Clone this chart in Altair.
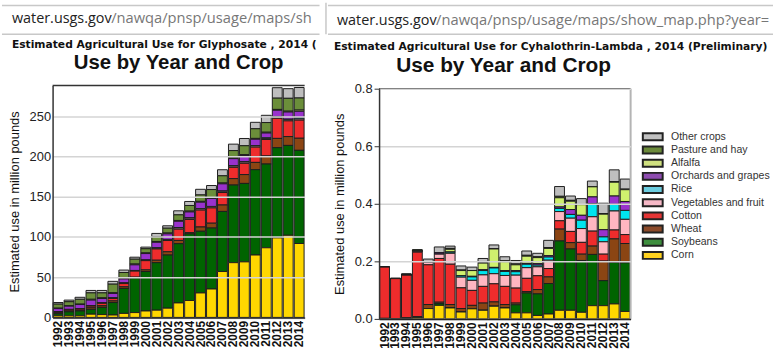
import altair as alt
import pandas as pd

FONT = "Liberation Sans"
SUBFONT = "DejaVu Sans"
URLFONT = "Open Sans"

years = ["1992", "1993", "1994", "1995", "1996", "1997", "1998", "1999", "2000", "2001",
         "2002", "2003", "2004", "2005", "2006", "2007", "2008", "2009", "2010", "2011",
         "2012", "2013", "2014"]

crops = ["Other crops", "Pasture and hay", "Alfalfa", "Orchards and grapes", "Rice",
         "Vegetables and fruit", "Cotton", "Wheat", "Soybeans", "Corn"]
crop_colors = ["#bebebe", "#6b8e3a", "#cff06e", "#9932cc", "#00e5ee",
               "#ffb6c1", "#ee2c2c", "#8b4513", "#006400", "#ffd700"]
legend_colors = ["#c0c0c0", "#6b8a3a", "#cfe07f", "#8e4cb0", "#6ccde0",
                 "#f5b8c6", "#e43535", "#8b4a2a", "#3e8e3e", "#ffd21f"]

# ---- Glyphosate (million pounds) ----
gly_corn = [2, 2, 2, 4, 3.5, 3, 5, 6, 8, 9, 11.5, 18, 21, 30.4, 35.3, 57, 68, 69, 77.5, 86.5, 98.8, 102, 91.8]
gly_soy = [2.5, 5, 6, 6, 9, 15.5, 31, 43, 49, 59, 66, 73.6, 82.7, 76.6, 75.7, 74.6, 96.4, 97.4, 106, 104, 112, 111.6, 115.7]
gly_wheat = [1, 1, 1, 2, 2, 2, 2, 1, 2, 3, 4, 4, 1.5, 5.3, 6, 8, 8, 11, 9, 10, 11.5, 11, 15]
gly_cotton = [1, 1.5, 1.5, 2, 3, 3, 4, 7.5, 11.5, 14, 14, 14, 16.5, 21, 19, 15.5, 14, 14, 19, 20.5, 25, 19.5, 22.5]
gly_veg = [0.3, 0.3, 0.3, 0.3, 0.3, 0.5, 0.5, 0.5, 0.5, 1, 1, 1.5, 1.5, 1.5, 1.5, 1.5, 1.5, 1.5, 1.5, 1, 1.5, 1.5, 1.5]
gly_rice = [0.2, 0.2, 0.2, 0.2, 0.2, 0.3, 0.3, 0.3, 0.3, 0.3, 0.3, 0.3, 0.3, 0.3, 0.3, 0.3, 0.3, 0.3, 0.3, 1, 0.5, 0.5, 1.5]
gly_orch = [4, 4, 5, 7, 5.5, 5.5, 5, 7, 8, 7, 7, 8, 7.5, 8, 10, 9, 9, 8, 8, 6, 8, 9, 8]
gly_alf = [0.5, 0.5, 0.5, 1, 1, 1, 1, 1, 1, 1, 1, 1, 1, 1, 1, 1, 1, 1, 1, 1, 1, 1, 1.5]
gly_past = [5, 5, 6, 8, 6, 10.5, 7, 6, 5, 6, 6, 7, 7, 8, 10, 9, 9, 11, 12, 12, 14, 16, 15]
gly_other = [2, 2, 2.5, 3, 3, 3.5, 3, 2.5, 2, 4, 3, 5, 5, 7, 5, 7.5, 8, 9, 8, 9, 13, 12, 13]

# ---- Cyhalothrin-Lambda (million pounds) ----
cyh_corn = [0, 0, 0, 0.004, 0.036, 0.047, 0.038, 0.024, 0.035, 0.03, 0.044, 0.038, 0.021, 0.021, 0.012, 0.017, 0.03, 0.03, 0.023, 0.046, 0.046, 0.052, 0.026]
cyh_soy = [0, 0, 0, 0, 0, 0.006, 0, 0, 0, 0, 0, 0, 0.028, 0.069, 0.075, 0.106, 0.241, 0.213, 0.18, 0.178, 0.087, 0.144, 0.169]
cyh_wheat = [0.002, 0, 0.004, 0.004, 0.014, 0.005, 0.012, 0.012, 0.012, 0.025, 0.015, 0.012, 0.006, 0.005, 0.015, 0.023, 0.041, 0.022, 0.022, 0.029, 0.068, 0.082, 0.067]
cyh_cotton = [0.178, 0.14, 0.148, 0.224, 0.138, 0.152, 0.14, 0.072, 0.052, 0.058, 0.063, 0.063, 0.052, 0.046, 0.048, 0.029, 0.029, 0.039, 0.041, 0.052, 0.024, 0.031, 0.031]
cyh_veg = [0, 0, 0, 0.003, 0.009, 0.015, 0.038, 0.037, 0.035, 0.04, 0.035, 0.038, 0.045, 0.037, 0.031, 0.029, 0.032, 0.046, 0.048, 0.05, 0.043, 0.066, 0.053]
cyh_rice = [0, 0, 0, 0, 0, 0, 0.004, 0.005, 0.012, 0.015, 0.02, 0.014, 0.012, 0.012, 0.006, 0.011, 0.011, 0.013, 0.029, 0.046, 0.017, 0.023, 0.031]
cyh_orch = [0, 0, 0, 0, 0, 0.005, 0, 0, 0.002, 0.003, 0.002, 0.003, 0.004, 0.003, 0.005, 0.005, 0.005, 0.017, 0.017, 0.023, 0.025, 0.029, 0.031]
cyh_alf = [0, 0, 0, 0, 0, 0, 0.01, 0.018, 0.02, 0.023, 0.064, 0.031, 0.02, 0.025, 0.021, 0.025, 0.032, 0.029, 0.037, 0.035, 0.054, 0.048, 0.041]
cyh_past = [0, 0, 0.004, 0.005, 0, 0, 0.003, 0.002, 0, 0.002, 0, 0.003, 0.003, 0.003, 0.003, 0.003, 0.005, 0.003, 0, 0, 0.002, 0.002, 0.002]
cyh_other = [0, 0.002, 0, 0, 0.011, 0.02, 0.008, 0.014, 0.012, 0.014, 0.014, 0.014, 0.012, 0.015, 0.012, 0.025, 0.034, 0.015, 0.021, 0.02, 0.036, 0.041, 0.035]

gly = {"Corn": gly_corn, "Soybeans": gly_soy, "Wheat": gly_wheat, "Cotton": gly_cotton,
       "Vegetables and fruit": gly_veg, "Rice": gly_rice, "Orchards and grapes": gly_orch,
       "Alfalfa": gly_alf, "Pasture and hay": gly_past, "Other crops": gly_other}
cyh = {"Corn": cyh_corn, "Soybeans": cyh_soy, "Wheat": cyh_wheat, "Cotton": cyh_cotton,
       "Vegetables and fruit": cyh_veg, "Rice": cyh_rice, "Orchards and grapes": cyh_orch,
       "Alfalfa": cyh_alf, "Pasture and hay": cyh_past, "Other crops": cyh_other}


def long_table(series):
    rows = []
    for ci, crop in enumerate(crops):
        for y, v in zip(years, series[crop]):
            rows.append({"year": y, "crop": crop, "value": v, "stack": len(crops) - 1 - ci})
    return pd.DataFrame(rows)


one = pd.DataFrame({"k": [0]})
color_scale = alt.Scale(domain=crops, range=crop_colors)


def txt(x, y, text, size, weight="normal", color="#111", font=FONT, align="left", limit=None):
    kw = dict(text=text, font=font, fontSize=size, fontWeight=weight, color=color,
              align=align, baseline="alphabetic")
    if limit:
        kw.update(limit=limit, ellipsis="\u200b")
    return alt.Chart(one).mark_text(**kw).encode(x=alt.value(x), y=alt.value(y))


def hrule(x1, x2, y, color, w):
    return alt.Chart(one).mark_rule(color=color, strokeWidth=w).encode(
        x=alt.value(x1), x2=alt.value(x2), y=alt.value(y))


def vrule(x, y1, y2, color, w):
    return alt.Chart(one).mark_rule(color=color, strokeWidth=w).encode(
        x=alt.value(x), y=alt.value(y1), y2=alt.value(y2))


def frame(x1, x2, y1, y2):
    return alt.Chart(one).mark_rect(fill="white", strokeWidth=0).encode(
        x=alt.value(x1), x2=alt.value(x2), y=alt.value(y1), y2=alt.value(y2))


def bars(df, ymax, yrange, yvals, yfmt, tick, title_x):
    return alt.Chart(df).mark_bar(stroke="#1e1e1e", strokeWidth=1).encode(
        x=alt.X("year:O", sort=years,
                scale=alt.Scale(paddingInner=0.1, paddingOuter=0.05),
                axis=alt.Axis(title=None, labelAngle=270, labelFont=FONT, labelFontSize=12,
                              labelFontWeight="bold", labelColor="#111", ticks=False,
                              labelPadding=3, domainColor="#222", domainWidth=1.5,
                              labelOverlap=False, zindex=1)),
        y=alt.Y("value:Q", stack="zero",
                scale=alt.Scale(domain=[0, ymax], range=yrange, nice=False, zero=True),
                axis=alt.Axis(title="Estimated use in million pounds", values=yvals, format=yfmt,
                              tickSize=tick, tickColor="#333", labelPadding=2,
                              labelFont=FONT, labelFontSize=13, labelColor="#222",
                              titleFont=FONT, titleFontSize=13, titleFontWeight="normal",
                              titleColor="#111", titleX=title_x, titleBaseline="middle",
                              titleAlign="center", grid=True, gridColor="#d4d4d4",
                              gridWidth=1.5, domainColor="#333", domainWidth=1.5, zindex=1)),
        color=alt.Color("crop:N", scale=color_scale, legend=None),
        order=alt.Order("stack:Q", sort="ascending"),
    )


# Both plot areas share the same top (page y = 86.5); left origin x = 51, right origin x ~ 377.5
TOP = 86.5

# ---------------- left panel ----------------
LW, LH = 254, 230.5
left = alt.layer(
    frame(-51, 271, -TOP, 354 - TOP),
    hrule(-51, 269, 2.7 - TOP, "#c8c8c8", 1.5),
    hrule(-51, 269, 31.7 - TOP, "#c8c8c8", 1.5),
    txt(-41, 20 - TOP, "water.usgs.gov", 14.5, color="#222", font=URLFONT),
    txt(59, 20 - TOP, "/nawqa/pnsp/usage/maps/show_map.php?year=2014&map=GLYPHOSATE&hilo=L",
        14.8, color="#777", font=URLFONT, limit=208),
    txt(-41, 45 - TOP, "Estimated Agricultural Use for Glyphosate , 2014 (Preliminary)", 10.8,
        weight="bold", font=SUBFONT, limit=311),
    txt(127, 66.2 - TOP, "Use by Year and Crop", 20.5, weight="bold", align="center"),
    bars(long_table(gly), 288, [LH, 83.3 - TOP], [0, 50, 100, 150, 200, 250], "d", 0, -38.5),
    hrule(0, LW, 83.3 - TOP, "#333", 1.5),
).properties(width=LW, height=LH)

# ---------------- right panel ----------------
RW, RH = 253.5, 232
legend_df = pd.DataFrame({"crop": crops, "row": list(range(len(crops)))})
leg_y = alt.Y("row:Q", scale=alt.Scale(domain=[0, len(crops) - 1], range=[48.5, 168]), axis=None)
legend_sym = alt.Chart(legend_df).mark_point(
    shape="M-1,-0.35H1V0.35H-1Z", size=400, filled=True, opacity=1,
    stroke="#222", strokeWidth=2).encode(
    x=alt.value(275.8), y=leg_y,
    fill=alt.Fill("crop:N", scale=alt.Scale(domain=crops, range=legend_colors), legend=None))
legend_txt = alt.Chart(legend_df).mark_text(
    align="left", baseline="middle", font=FONT, fontSize=10.6, color="#333").encode(
    x=alt.value(294.2), y=leg_y, text="crop:N")

right = alt.layer(
    frame(-53.5, 397, -TOP, 354 - TOP),
    hrule(-51.5, 397, 2.7 - TOP, "#c8c8c8", 1.5),
    hrule(-51.5, 397, 31.7 - TOP, "#c8c8c8", 1.5),
    vrule(-53.5, -TOP, 31.7 - TOP, "#c8c8c8", 1.5),
    txt(-42.5, 22.7 - TOP, "water.usgs.gov", 14.5, color="#222", font=URLFONT),
    txt(57.5, 22.7 - TOP, "/nawqa/pnsp/usage/maps/show_map.php?year=2014&map=LAMBDACYHALOTHRIN&hilo=L",
        14.8, color="#777", font=URLFONT, limit=338),
    txt(-45.5, 47.3 - TOP, "Estimated Agricultural Use for Cyhalothrin-Lambda , 2014 (Preliminary)", 10.8,
        weight="bold", font=SUBFONT),
    txt(125.5, 69.2 - TOP, "Use by Year and Crop", 21, weight="bold", align="center"),
    bars(long_table(cyh), 0.8, [RH, 0], [0, 0.2, 0.4, 0.6, 0.8], ".1f", 5, -39.5),
    hrule(0, RW, 0, "#333", 1.5),
    vrule(RW, 0, RH, "#b4b4b4", 2),
    legend_sym,
    legend_txt,
).resolve_scale(y="independent").properties(width=RW, height=RH)

chart = alt.hconcat(left, right, spacing=2).properties(
    padding=0).configure_view(stroke=None).configure(font=FONT)

chart.save("out.html", embed_options={"renderer": "svg", "actions": False})
